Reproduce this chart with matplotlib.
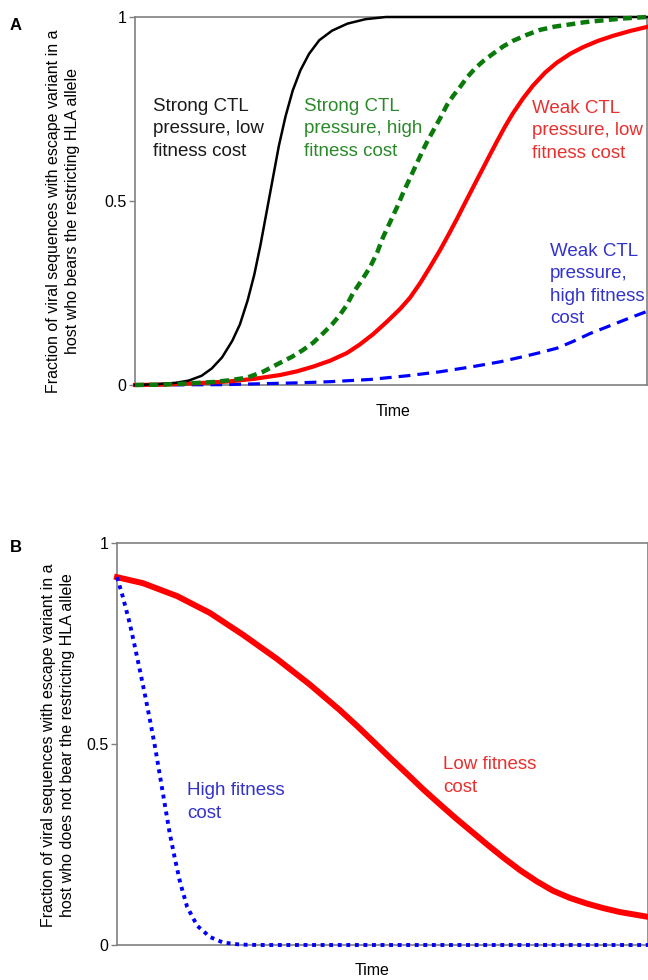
import matplotlib
matplotlib.use("Agg")
import matplotlib.pyplot as plt

plt.rcParams['font.family'] = ['Liberation Sans', 'DejaVu Sans']

# Panel A: fraction with escape variant in a host bearing the restricting HLA allele
t_strong_low = [0, 4, 8, 10.5, 13, 15, 17, 19, 20.5, 22, 23.3, 24.5, 25.7, 26.9, 28.1, 29.4, 30.8, 32.3,
                34, 36, 38.5, 41.5, 45, 49, 100]
y_strong_low = [0, 0.002, 0.006, 0.012, 0.025, 0.045, 0.075, 0.12, 0.165, 0.23, 0.30, 0.38, 0.47, 0.56,
                0.65, 0.73, 0.80, 0.855, 0.90, 0.937, 0.963, 0.982, 0.994, 1.0, 1.0]

t_strong_high = [0, 4.9, 8.8, 15.2, 18.6, 21.9, 25.0, 28.3, 30.7, 32.8, 34.8, 36.7, 38.5, 40.0, 41.4, 42.6,
                 44.3, 45.9, 47.3, 48.4, 49.4, 50.4, 51.4, 52.3, 53.3, 54.3, 55.3, 56.3, 57.2, 58.2, 59.6,
                 60.9, 62.1, 63.5, 64.8, 66.4, 68.0, 69.9, 71.9, 73.8, 76.6, 79.1, 82.0, 85.0, 87.9, 90.8,
                 95.3, 100]
y_strong_high = [0, 0.001, 0.003, 0.008, 0.013, 0.02, 0.036, 0.06, 0.077, 0.095, 0.115, 0.14, 0.165, 0.19,
                 0.218, 0.25, 0.285, 0.32, 0.36, 0.40, 0.43, 0.46, 0.49, 0.52, 0.55, 0.58, 0.61, 0.64, 0.665,
                 0.69, 0.725, 0.76, 0.785, 0.81, 0.835, 0.86, 0.88, 0.90, 0.92, 0.935, 0.952, 0.965, 0.974,
                 0.98, 0.986, 0.99, 0.996, 1.0]

t_weak_low = [0, 4.9, 8.8, 13.7, 18.6, 23.4, 28.3, 31.6, 34.8, 38.1, 41.4, 43.9, 46.5, 49.2, 51.8, 53.7,
              55.7, 57.6, 59.6, 61.1, 62.9, 64.1, 65.4, 66.8, 68.0, 69.3, 70.7, 72.3, 73.8, 75.8, 77.7,
              80.1, 82.4, 85.0, 87.5, 90.4, 93.4, 96.7, 100]
y_weak_low = [0, 0.001, 0.003, 0.006, 0.01, 0.017, 0.027, 0.037, 0.05, 0.066, 0.087, 0.11, 0.138, 0.172,
              0.207, 0.237, 0.277, 0.32, 0.367, 0.405, 0.452, 0.485, 0.52, 0.558, 0.59, 0.625, 0.662, 0.703,
              0.738, 0.779, 0.813, 0.849, 0.876, 0.90, 0.918, 0.935, 0.949, 0.962, 0.973]

t_weak_high = [0, 8.8, 17.2, 26.4, 32.2, 38.1, 45.9, 53.1, 59.6, 66.0, 71.3, 75.8, 79.1, 82.4, 85.5,
               88.9, 92.2, 95.3, 97.7, 100]
y_weak_high = [0, 0.0005, 0.001, 0.004, 0.006, 0.009, 0.015, 0.025, 0.036, 0.05, 0.063, 0.077, 0.088,
               0.10, 0.118, 0.14, 0.158, 0.175, 0.188, 0.20]

# Panel B: fraction with escape variant in a host not bearing the allele (reversion)
t_low_cost = [0, 4.9, 11.3, 17.5, 23.7, 30.1, 36.3, 41.9, 45.2, 48.2, 51.4, 54.6, 57.6, 60.8, 64.0, 66.9,
              69.7, 72.7, 75.9, 79.1, 82.1, 85.3, 88.5, 91.5, 94.7, 100]
y_low_cost = [0.915, 0.90, 0.868, 0.826, 0.772, 0.712, 0.648, 0.585, 0.545, 0.507, 0.466, 0.426, 0.388,
              0.35, 0.313, 0.281, 0.25, 0.218, 0.186, 0.158, 0.135, 0.117, 0.103, 0.092, 0.082, 0.07]

t_high_cost = [0, 1.1, 2.4, 3.4, 4.3, 5.3, 6.2, 7.2, 8.1, 9.0, 9.9, 10.9, 11.9, 13.2, 15.1, 17.5, 20.0,
               23.2, 26.9, 100]
y_high_cost = [0.915, 0.866, 0.80, 0.74, 0.684, 0.62, 0.56, 0.49, 0.42, 0.35, 0.28, 0.215, 0.155, 0.095,
               0.048, 0.02, 0.006, 0.001, 0.0, 0.0]

yticks = [0, 0.5, 1]
ytick_labels = ['0', '0.5', '1']

W, H = 648, 980
fig = plt.figure(figsize=(W / 100, H / 100), dpi=100)
axA = fig.add_axes([135 / W, 1 - 385 / H, 512 / W, 368 / H])
axB = fig.add_axes([117 / W, 1 - 945 / H, 531 / W, 402 / H])

for ax in (axA, axB):
    ax.set_xlim(0, 100)
    ax.set_ylim(0, 1)
    ax.set_xticks([])
    ax.set_yticks(yticks)
    ax.set_yticklabels(ytick_labels)
    ax.tick_params(axis='y', length=4, width=1, color='#808080', labelsize=11.5, pad=2)
    for s in ax.spines.values():
        s.set_color('#808080')
        s.set_linewidth(1.2)

# panel A curves
axA.plot(t_weak_high, y_weak_high, color='#0000ff', lw=2.3, dashes=(3.7, 2.2), clip_on=False, zorder=3)
axA.plot(t_weak_low, y_weak_low, color='#ff0000', lw=3.0, clip_on=False, zorder=3)
axA.plot(t_strong_low, y_strong_low, color='black', lw=1.8, clip_on=False, zorder=3)
axA.plot(t_strong_high, y_strong_high, color='#0a7a0a', lw=3.2, dashes=(2.0, 1.2), clip_on=False, zorder=3)

fs = 13.5
ls = 1.42
axA.text(3.5, 0.78, 'Strong CTL\npressure, low\nfitness cost', color='#1a1a1a', fontsize=fs,
         va='top', ha='left', linespacing=ls)
axA.text(33.0, 0.78, 'Strong CTL\npressure, high\nfitness cost', color='#2a8a2a', fontsize=fs,
         va='top', ha='left', linespacing=ls)
axA.text(77.5, 0.775, 'Weak CTL\npressure, low\nfitness cost', color='#e8312f', fontsize=fs,
         va='top', ha='left', linespacing=ls)
axA.text(81.1, 0.386, 'Weak CTL\npressure,\nhigh fitness\ncost', color='#3333cc', fontsize=fs,
         va='top', ha='left', linespacing=ls)

# panel B curves
axB.plot(t_low_cost, y_low_cost, color='#ff0000', lw=4.3, clip_on=False, zorder=3)
axB.plot(t_high_cost, y_high_cost, color='#0000ff', lw=2.8, dashes=(1.0, 1.2), clip_on=False, zorder=3)

axB.text(13.2, 0.405, 'High fitness\ncost', color='#3333cc', fontsize=fs, va='top', ha='left', linespacing=ls)
axB.text(61.4, 0.47, 'Low fitness\ncost', color='#e8312f', fontsize=fs, va='top', ha='left', linespacing=ls)

# axis titles and panel letters
fig.text(63 / W, 1 - 211 / H,
         'Fraction of viral sequences with escape variant in a\nhost who bears the restricting HLA allele',
         rotation=90, ha='center', va='center', multialignment='center', fontsize=11.5, linespacing=1.4)
fig.text(58 / W, 1 - 745 / H,
         'Fraction of viral sequences with escape variant in a\nhost who does not bear the restricting HLA allele',
         rotation=90, ha='center', va='center', multialignment='center', fontsize=11.5, linespacing=1.4)
fig.text(393 / W, 1 - 411 / H, 'Time', ha='center', va='center', fontsize=11.5)
fig.text(372 / W, 1 - 970 / H, 'Time', ha='center', va='center', fontsize=11.5)
fig.text(10 / W, 1 - 25 / H, 'A', ha='left', va='center', fontsize=12, fontweight='bold')
fig.text(10 / W, 1 - 547 / H, 'B', ha='left', va='center', fontsize=12, fontweight='bold')

fig.savefig('out.png', dpi=100, facecolor='white')
